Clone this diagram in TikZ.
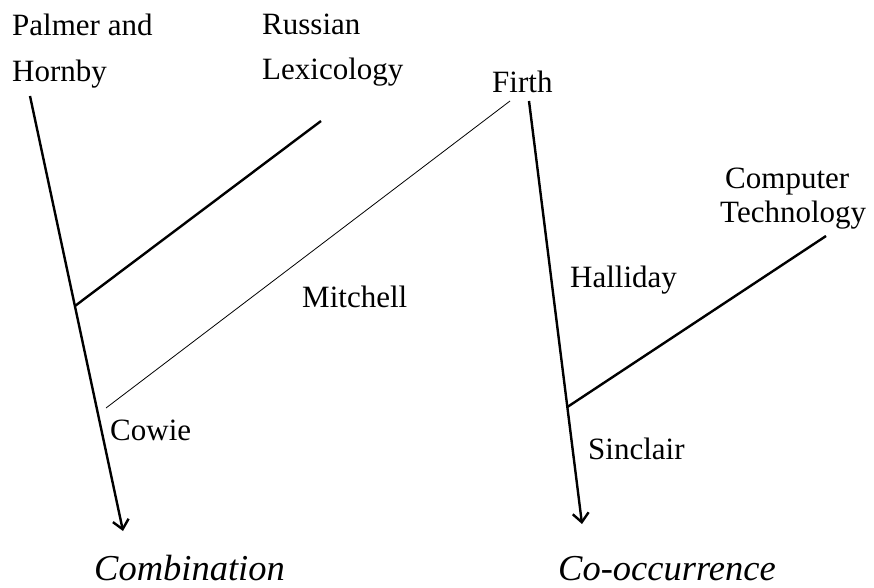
\documentclass[tikz,border=0pt]{standalone}
\usepackage{fontspec}
\setmainfont{Liberation Serif}
\usetikzlibrary{arrows.meta,calc}
\tikzset{lbl/.style = {anchor=base west, inner sep=0, font=\fontsize{31}{37}\selectfont}}
\tikzset{ital/.style = {anchor=base west, inner sep=0, font=\fontsize{36.5}{42}\selectfont\itshape}}
\tikzset{trunk/.style = {line width=2.4pt, -{Straight Barb[length=9pt,width=16pt,line width=2.4pt]}}}
\tikzset{branch/.style = {line width=2.4pt}}

\begin{document}
\begin{tikzpicture}[x=1pt, y=-1pt]
    \useasboundingbox (0,0) rectangle (874,588);
    \coordinate (palmer top) at (30,96);
    \coordinate (palmer end) at (123,531);
    \coordinate (russian end) at (321,121);
    \coordinate (firth top) at (529,101);
    \coordinate (firth end) at (582,524);
    \coordinate (mitchell top) at (510,101);
    \coordinate (mitchell end) at (106,408);
    \coordinate (computer end) at (826,236);
    \coordinate (j1) at ($(palmer top)!0.4828!(palmer end)$);
    \coordinate (j2) at ($(firth top)!0.7234!(firth end)$);

    \node[lbl] (palmer) at (12,36) {Palmer and};
    \node[lbl] (hornby) at (12,82) {Hornby};
    \node[lbl] (russian) at (262,35) {Russian};
    \node[lbl] (lexicology) at (262,80) {Lexicology};
    \node[lbl] (firth) at (492,93) {Firth};
    \node[lbl] (computer) at (725,188) {Computer};
    \node[lbl] (technology) at (720,222) {Technology};
    \node[lbl] (halliday) at (570,287) {Halliday};
    \node[lbl] (mitchell) at (302,307) {Mitchell};
    \node[lbl] (cowie) at (110,440) {Cowie};
    \node[lbl] (sinclair) at (588,459) {Sinclair};
    \node[ital] (combination) at (94,580) {Combination};
    \node[ital] (cooccurrence) at (558,580) {Co-occurrence};

    \draw[trunk] (palmer top) -- (palmer end);
    \draw[trunk] (firth top) -- (firth end);
    \draw[branch] (j1) -- (russian end);
    \draw[branch] (j2) -- (computer end);
    \draw[line width=0.8pt] (mitchell top) -- (mitchell end); % thin line
  \end{tikzpicture}
\end{document}
